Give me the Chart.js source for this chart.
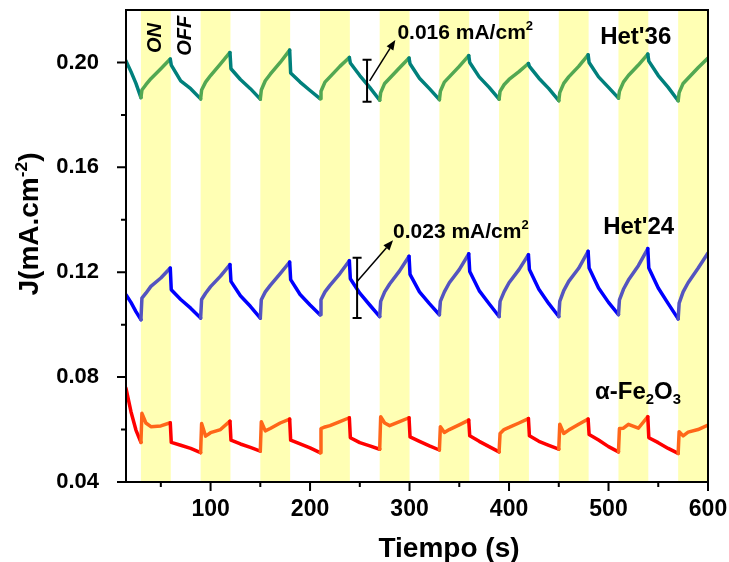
<!DOCTYPE html>
<html>
<head>
<meta charset="utf-8">
<script src="https://cdn.jsdelivr.net/npm/chart.js@4/dist/chart.umd.min.js"></script>
<style>
  html, body { margin: 0; padding: 0; background: #ffffff; }
  #c { display: block; }
</style>
</head>
<body>
<canvas id="c" width="729" height="562"></canvas>
<script>
// Sampling times (s), shared by the three photocurrent traces
const times = [15, 20, 25,
  30, 31, 35, 40, 50, 59.5, 60.5, 70, 80,
  90, 91, 95, 100, 110, 119.5, 120.5, 130, 140,
  150, 151, 155, 160, 170, 179.5, 180.5, 190, 200,
  210, 211, 215, 220, 230, 239.5, 240.5, 250, 260,
  270, 271, 275, 280, 290, 299.5, 300.5, 310, 320,
  330, 331, 335, 340, 350, 359.5, 360.5, 370, 380,
  390, 391, 395, 400, 410, 419.5, 420.5, 430, 440,
  450, 451, 455, 460, 470, 479.5, 480.5, 490, 500,
  510, 511, 515, 520, 530, 539.5, 540.5, 550, 560,
  570, 571, 575, 580, 590, 600];

// Current density J (mA/cm2)
const het36 = [0.2006, 0.1965, 0.1920,
  0.1866, 0.1895, 0.1915, 0.1938, 0.1976, 0.2013, 0.1990, 0.1930, 0.1900,
  0.1861, 0.1895, 0.1925, 0.1950, 0.1995, 0.2038, 0.1976, 0.1935, 0.1900,
  0.1860, 0.1895, 0.1930, 0.1955, 0.2000, 0.2047, 0.1960, 0.1925, 0.1893,
  0.1862, 0.1890, 0.1925, 0.1945, 0.1985, 0.2019, 0.1998, 0.1950, 0.1905,
  0.1856, 0.1885, 0.1920, 0.1940, 0.1980, 0.2017, 0.1995, 0.1940, 0.1900,
  0.1858, 0.1890, 0.1925, 0.1945, 0.1985, 0.2026, 0.2000, 0.1945, 0.1905,
  0.1860, 0.1890, 0.1915, 0.1935, 0.1965, 0.1996, 0.1985, 0.1940, 0.1900,
  0.1854, 0.1885, 0.1920, 0.1945, 0.1985, 0.2029, 0.2000, 0.1945, 0.1905,
  0.1864, 0.1890, 0.1925, 0.1950, 0.1990, 0.2032, 0.2005, 0.1950, 0.1905,
  0.1854, 0.1885, 0.1920, 0.1940, 0.1980, 0.2017];

const het24 = [0.1114, 0.1085, 0.1050,
  0.1019, 0.1101, 0.1120, 0.1146, 0.1178, 0.1216, 0.1133, 0.1096, 0.1063,
  0.1025, 0.1096, 0.1120, 0.1145, 0.1185, 0.1229, 0.1165, 0.1110, 0.1070,
  0.1025, 0.1095, 0.1125, 0.1150, 0.1195, 0.1239, 0.1172, 0.1115, 0.1075,
  0.1038, 0.1095, 0.1125, 0.1150, 0.1195, 0.1244, 0.1175, 0.1120, 0.1075,
  0.1031, 0.1089, 0.1125, 0.1155, 0.1205, 0.1261, 0.1192, 0.1125, 0.1080,
  0.1038, 0.1089, 0.1125, 0.1160, 0.1210, 0.1270, 0.1203, 0.1130, 0.1080,
  0.1031, 0.1089, 0.1125, 0.1160, 0.1210, 0.1267, 0.1210, 0.1135, 0.1080,
  0.1031, 0.1089, 0.1130, 0.1165, 0.1215, 0.1280, 0.1216, 0.1140, 0.1085,
  0.1038, 0.1095, 0.1135, 0.1170, 0.1225, 0.1290, 0.1216, 0.1140, 0.1080,
  0.1022, 0.1082, 0.1125, 0.1160, 0.1215, 0.1273];

const fe2o3 = [0.0757, 0.0668, 0.0598,
  0.0551, 0.0662, 0.0625, 0.0611, 0.0614, 0.0626, 0.0551, 0.0540, 0.0528,
  0.0512, 0.0623, 0.0575, 0.0588, 0.0600, 0.0632, 0.0560, 0.0545, 0.0532,
  0.0518, 0.0630, 0.0595, 0.0604, 0.0625, 0.0640, 0.0560, 0.0545, 0.0530,
  0.0512, 0.0604, 0.0610, 0.0615, 0.0630, 0.0645, 0.0569, 0.0550, 0.0538,
  0.0525, 0.0649, 0.0625, 0.0615, 0.0630, 0.0645, 0.0572, 0.0555, 0.0538,
  0.0522, 0.0611, 0.0589, 0.0600, 0.0618, 0.0636, 0.0576, 0.0555, 0.0535,
  0.0515, 0.0585, 0.0600, 0.0608, 0.0625, 0.0642, 0.0576, 0.0555, 0.0540,
  0.0525, 0.0620, 0.0585, 0.0598, 0.0620, 0.0640, 0.0581, 0.0560, 0.0535,
  0.0515, 0.0604, 0.0605, 0.0620, 0.0605, 0.0649, 0.0569, 0.0550, 0.0528,
  0.0509, 0.0592, 0.0576, 0.0590, 0.0600, 0.0617];

// Illumination periods: light switched on at these times for 30 s
const lightOnStarts = [30, 90, 150, 210, 270, 330, 390, 450, 510, 570];
const lightOnLength = 30;

// Axis ticks
const xMajorTicks = [100, 200, 300, 400, 500, 600];
const xMinorTicks = [50, 150, 250, 350, 450, 550];
const yMajorTicks = [0.04, 0.08, 0.12, 0.16, 0.20];
const yMinorTicks = [0.06, 0.10, 0.14, 0.18];

// Amplitude markers: [time, low J, high J], with their stated spans
const het36Span = [257.3, 0.1850, 0.2010];   // 0.016 mA/cm2
const het24Span = [247.3, 0.1025, 0.1255];   // 0.023 mA/cm2
// Arrows: [t0, j0, t1, j1]
const het36Arrow = [259.9, 0.1930, 285.7, 0.2086];
const het24Arrow = [247.3, 0.1165, 283.4, 0.1322];

const FONT = "'Liberation Sans', Arial, Helvetica, sans-serif";

function isLightOn(t) {
  return lightOnStarts.some(s => t >= s && t < s + lightOnLength);
}

function series(values, onColor, offColor) {
  return {
    data: times.map((t, i) => ({ x: t, y: values[i] })),
    borderColor: offColor,
    borderWidth: 3.5,
    pointRadius: 0,
    tension: 0,
    borderJoinStyle: 'round',
    borderCapStyle: 'round',
    fill: false,
    segment: {
      borderColor: c => isLightOn((c.p0.parsed.x + c.p1.parsed.x) / 2) ? onColor : offColor
    }
  };
}

// Text with inline superscripts / subscripts; parts = [[text, mode], ...]
function richWidth(ctx, parts, size, weight) {
  let w = 0;
  parts.forEach(([txt, mode]) => {
    const s = mode ? size * 0.62 : size;
    ctx.font = `${weight} ${s}px ${FONT}`;
    w += ctx.measureText(txt).width;
  });
  return w;
}
function drawRich(ctx, parts, x, y, size, weight, align) {
  const w = richWidth(ctx, parts, size, weight);
  let cx = align === 'center' ? x - w / 2 : x;
  ctx.textAlign = 'left';
  ctx.textBaseline = 'alphabetic';
  parts.forEach(([txt, mode]) => {
    const s = mode ? size * 0.62 : size;
    const dy = mode === 'sup' ? -size * 0.40 : (mode === 'sub' ? size * 0.22 : 0);
    ctx.font = `${weight} ${s}px ${FONT}`;
    ctx.fillText(txt, cx, y + dy);
    cx += ctx.measureText(txt).width;
  });
}

// Keep the plot area fixed: no automatic label overhang padding
function fixPadding(s) {
  s.paddingTop = 0; s.paddingBottom = 0; s.paddingLeft = 0; s.paddingRight = 0;
}

const decorations = {
  id: 'decorations',
  beforeDatasetsDraw(chart) {
    const { ctx, chartArea: a, scales: { x } } = chart;
    ctx.save();
    ctx.fillStyle = '#ffffb4';
    lightOnStarts.forEach(s => {
      const x0 = Math.max(a.left, x.getPixelForValue(s));
      const x1 = Math.min(a.right, x.getPixelForValue(s + lightOnLength));
      ctx.fillRect(x0, a.top, x1 - x0, a.bottom - a.top);
    });
    ctx.restore();
  },
  afterDraw(chart) {
    const { ctx, chartArea: a, scales: { x, y } } = chart;
    ctx.save();
    ctx.strokeStyle = '#000';
    ctx.fillStyle = '#000';

    // frame
    ctx.lineWidth = 2;
    ctx.strokeRect(a.left, a.top, a.right - a.left, a.bottom - a.top);

    // tick marks (outward)
    ctx.beginPath();
    xMajorTicks.forEach(v => { const px = x.getPixelForValue(v); ctx.moveTo(px, a.bottom); ctx.lineTo(px, a.bottom + 9); });
    xMinorTicks.forEach(v => { const px = x.getPixelForValue(v); ctx.moveTo(px, a.bottom); ctx.lineTo(px, a.bottom + 5); });
    yMajorTicks.forEach(v => { const py = y.getPixelForValue(v); ctx.moveTo(a.left, py); ctx.lineTo(a.left - 9, py); });
    yMinorTicks.forEach(v => { const py = y.getPixelForValue(v); ctx.moveTo(a.left, py); ctx.lineTo(a.left - 5, py); });
    ctx.stroke();

    // axis titles
    drawRich(ctx, [['Tiempo (s)', '']], 449, 557, 28, 'bold', 'center');
    ctx.save();
    ctx.translate(38, 224);
    ctx.rotate(-Math.PI / 2);
    drawRich(ctx, [['J(mA.cm', ''], ['-2', 'sup'], [')', '']], 0, 0, 28, 'bold', 'center');
    ctx.restore();

    // ON / OFF markers
    [['ON', 44.8, 0.2093], ['OFF', 74.9, 0.2102]].forEach(([txt, t, j]) => {
      ctx.save();
      ctx.translate(x.getPixelForValue(t), y.getPixelForValue(j));
      ctx.rotate(-Math.PI / 2);
      ctx.font = `italic bold 20px ${FONT}`;
      ctx.textAlign = 'center';
      ctx.textBaseline = 'middle';
      ctx.fillText(txt, 0, 0);
      ctx.restore();
    });

    // series names
    drawRich(ctx, [["Het'36", '']], x.getPixelForValue(491.6), y.getPixelForValue(0.2072), 24, 'bold', 'left');
    drawRich(ctx, [["Het'24", '']], x.getPixelForValue(494.6), y.getPixelForValue(0.1344), 24, 'bold', 'left');
    drawRich(ctx, [['\u03b1-Fe', ''], ['2', 'sub'], ['O', ''], ['3', 'sub']],
      x.getPixelForValue(486.5), y.getPixelForValue(0.0718), 24, 'bold', 'left');

    // amplitude bars
    [het36Span, het24Span].forEach(([t, lo, hi]) => {
      const px = x.getPixelForValue(t);
      const p0 = y.getPixelForValue(lo), p1 = y.getPixelForValue(hi);
      ctx.lineWidth = 2;
      ctx.beginPath();
      ctx.moveTo(px, p0); ctx.lineTo(px, p1);
      ctx.moveTo(px - 4.5, p0); ctx.lineTo(px + 4.5, p0);
      ctx.moveTo(px - 4.5, p1); ctx.lineTo(px + 4.5, p1);
      ctx.stroke();
    });

    // arrows
    [het36Arrow, het24Arrow].forEach(([t0, j0, t1, j1]) => {
      const x0 = x.getPixelForValue(t0), y0 = y.getPixelForValue(j0);
      const x1 = x.getPixelForValue(t1), y1 = y.getPixelForValue(j1);
      const ang = Math.atan2(y1 - y0, x1 - x0);
      const hl = 10, hw = 4;
      ctx.lineWidth = 1.5;
      ctx.beginPath();
      ctx.moveTo(x0, y0);
      ctx.lineTo(x1 - hl * Math.cos(ang), y1 - hl * Math.sin(ang));
      ctx.stroke();
      ctx.beginPath();
      ctx.moveTo(x1, y1);
      ctx.lineTo(x1 - hl * Math.cos(ang) + hw * Math.sin(ang), y1 - hl * Math.sin(ang) - hw * Math.cos(ang));
      ctx.lineTo(x1 - hl * Math.cos(ang) - hw * Math.sin(ang), y1 - hl * Math.sin(ang) + hw * Math.cos(ang));
      ctx.closePath();
      ctx.fill();
    });

    // amplitude labels
    drawRich(ctx, [['0.016 mA/cm', ''], ['2', 'sup']], x.getPixelForValue(287.8), y.getPixelForValue(0.2091), 21, 'bold', 'left');
    drawRich(ctx, [['0.023 mA/cm', ''], ['2', 'sup']], x.getPixelForValue(283.4), y.getPixelForValue(0.1331), 21, 'bold', 'left');

    ctx.restore();
  }
};

new Chart(document.getElementById('c'), {
  type: 'line',
  data: {
    datasets: [
      series(het36, '#52a852', '#00807c'),
      series(het24, '#5454c0', '#0000ff'),
      series(fe2o3, '#ff6619', '#ff0000')
    ]
  },
  options: {
    responsive: false,
    animation: false,
    layout: { padding: { top: 10, right: 21, bottom: 0, left: 0 } },
    plugins: { legend: { display: false }, tooltip: { enabled: false } },
    scales: {
      x: {
        type: 'linear',
        min: 15,
        max: 600,
        afterBuildTicks: s => { s.ticks = xMajorTicks.map(v => ({ value: v })); },
        afterFit: s => { s.height = 80; fixPadding(s); },
        grid: { display: false, drawTicks: false },
        border: { display: false },
        ticks: {
          autoSkip: false, maxRotation: 0, padding: 14, color: '#000',
          font: { family: FONT, size: 23, weight: 'bold' },
          callback: v => String(v)
        }
      },
      y: {
        type: 'linear',
        min: 0.04,
        max: 0.22,
        afterBuildTicks: s => { s.ticks = yMajorTicks.map(v => ({ value: v })); },
        afterFit: s => { s.width = 126; fixPadding(s); },
        grid: { display: false, drawTicks: false },
        border: { display: false },
        ticks: {
          autoSkip: false, padding: 27, color: '#000',
          font: { family: FONT, size: 22, weight: 'bold' },
          callback: v => v.toFixed(2)
        }
      }
    }
  },
  plugins: [decorations]
});
</script>
</body>
</html>
